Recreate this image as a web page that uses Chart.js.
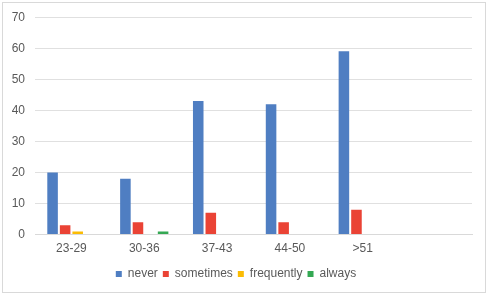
<!DOCTYPE html>
<html><head><meta charset="utf-8">
<script src="https://cdn.jsdelivr.net/npm/chart.js@4"></script>
<style>html,body{margin:0;padding:0;background:#fff}#wrap{width:487px;height:294px;position:relative}</style>
</head><body><div id="wrap"><canvas id="c" width="487" height="294"></canvas></div>
<script>
const categories = ["23-29","30-36","37-43","44-50",">51",""];
const never = [20,18,43,42,59,null];
const sometimes = [3,4,7,4,8,null];
const frequently = [1,0,0,0,0,null];
const always = [0,1,0,0,0,null];
const yTicks = [0,10,20,30,40,50,60,70];

const borderPlugin = {
  id:'frame',
  afterDraw(chart){
    const ctx = chart.ctx;
    ctx.save();
    ctx.strokeStyle = '#d9d9d9';
    ctx.lineWidth = 1;
    ctx.strokeRect(2.5,2.5,483,290);
    ctx.restore();
  }
};
const font = {family:'Liberation Sans, Arial, sans-serif', size:12};
function ds(label, data, color){
  return {label, data, backgroundColor:color, borderWidth:0,
    categoryPercentage:0.69, barPercentage:0.84};
}
new Chart(document.getElementById('c'),{
  type:'bar',
  data:{labels:categories, datasets:[
    ds('never', never, '#4f7ec2'),
    ds('sometimes', sometimes, '#ea4335'),
    ds('frequently', frequently, '#fbbc04'),
    ds('always', always, '#34a853')
  ]},
  options:{
    responsive:false, animation:false,
    layout:{padding:{left:0,right:15,top:10,bottom:4}},
    plugins:{
      legend:{position:'bottom', labels:{boxWidth:6, boxHeight:6, padding:5, color:'#595959', font}},
      tooltip:{enabled:false}
    },
    scales:{
      x:{grid:{display:false, drawTicks:false}, border:{display:true, color:'#d9d9d9'},
         ticks:{color:'#595959', font, padding:7, maxRotation:0}},
      y:{min:0, max:70, afterBuildTicks(s){s.ticks = yTicks.map(v=>({value:v}));},
         afterFit(s){s.width = 35;},
         grid:{color:'#e0e0e0', drawTicks:false}, border:{display:false},
         ticks:{color:'#595959', font, padding:10}}
    }
  },
  plugins:[borderPlugin]
});
</script></body></html>
